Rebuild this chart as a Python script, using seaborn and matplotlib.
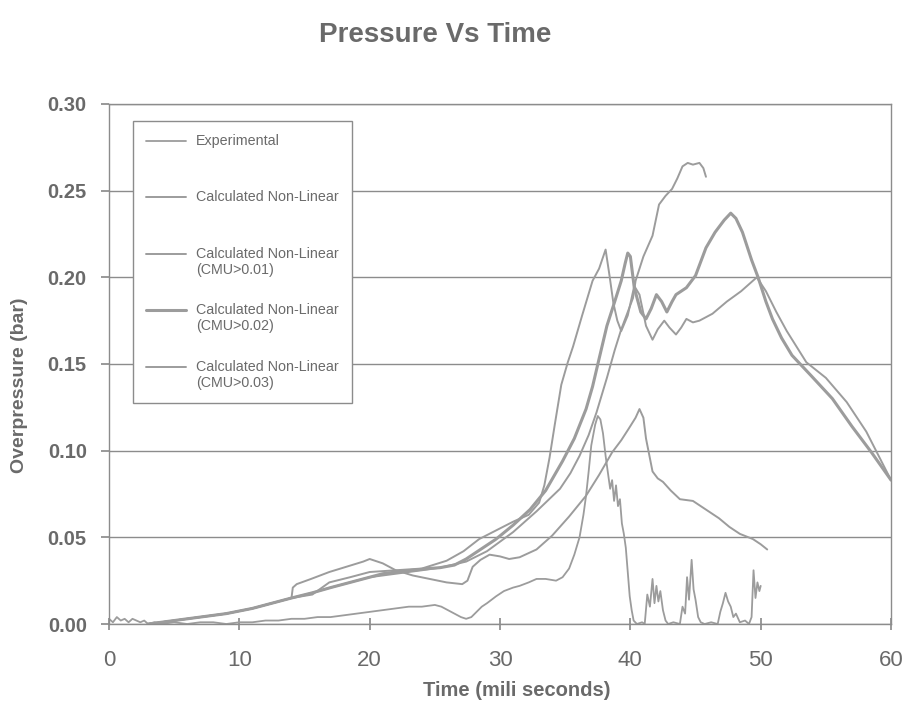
import numpy as np
import matplotlib
matplotlib.use("Agg")
import matplotlib.pyplot as plt
import seaborn as sns
from matplotlib.legend_handler import HandlerLine2D

# start shared by all the calculated curves (time in ms, pressure in bar)
early_t = [3.0, 4.0, 5.0, 6.0, 7.0, 8.0, 9.0, 10.0, 11.0, 12.0, 13.0, 14.0]
early_p = [0.000, 0.001, 0.002, 0.003, 0.004, 0.005, 0.006, 0.0075, 0.009, 0.011, 0.013, 0.015]

# experimental trace
exp_t = [0.0, 0.3, 0.6, 0.9, 1.2, 1.5, 1.8, 2.1, 2.4, 2.7, 3.0, 3.5, 4.0, 5.0, 6.0, 7.0, 8.0, 9.0,
         10.0, 11.0, 12.0, 13.0, 14.0, 15.0, 16.0, 17.0, 18.0, 19.0, 20.0, 21.0, 22.0, 23.0, 24.0,
         25.0, 25.5, 26.0, 26.5, 27.0, 27.4, 27.8, 28.2, 28.6, 29.0, 29.7, 30.3, 31.0, 31.5, 32.2,
         32.8, 33.5, 34.3, 34.8, 35.3, 35.7, 36.1, 36.4, 36.6, 36.8, 37.0, 37.3, 37.5, 37.7, 37.9,
         38.1, 38.3, 38.45, 38.6, 38.75, 38.9, 39.05, 39.2, 39.35, 39.5, 39.65, 39.8, 39.95, 40.1,
         40.25, 40.5, 40.9, 41.1, 41.3, 41.5, 41.7, 41.85, 42.0, 42.15, 42.3, 42.5, 42.7, 42.9,
         43.3, 43.8, 44.0, 44.2, 44.35, 44.5, 44.7, 44.85, 45.0, 45.2, 45.4, 45.7, 46.2, 46.7, 46.9,
         47.1, 47.3, 47.5, 47.7, 47.9, 48.1, 48.4, 48.8, 49.1, 49.3, 49.45, 49.6, 49.75, 49.9, 50.0]
exp_p = [0.003, 0.001, 0.004, 0.002, 0.003, 0.001, 0.003, 0.002, 0.001, 0.002, 0.000, 0.001, 0.000,
         0.001, 0.000, 0.001, 0.001, 0.000, 0.001, 0.001, 0.002, 0.002, 0.003, 0.003, 0.004, 0.004,
         0.005, 0.006, 0.007, 0.008, 0.009, 0.010, 0.010, 0.011, 0.010, 0.008, 0.006, 0.004, 0.003,
         0.004, 0.007, 0.010, 0.012, 0.016, 0.019, 0.021, 0.022, 0.024, 0.026, 0.026, 0.025, 0.027,
         0.032, 0.040, 0.050, 0.063, 0.074, 0.088, 0.103, 0.115, 0.120, 0.118, 0.110, 0.097, 0.086,
         0.078, 0.083, 0.071, 0.080, 0.068, 0.072, 0.058, 0.052, 0.044, 0.030, 0.016, 0.008, 0.002,
         0.000, 0.001, 0.000, 0.017, 0.010, 0.026, 0.012, 0.022, 0.013, 0.019, 0.008, 0.002, 0.000,
         0.001, 0.000, 0.010, 0.006, 0.027, 0.014, 0.037, 0.020, 0.014, 0.004, 0.001, 0.000, 0.001,
         0.000, 0.007, 0.012, 0.018, 0.013, 0.010, 0.004, 0.006, 0.001, 0.002, 0.000, 0.004, 0.031,
         0.015, 0.024, 0.019, 0.022]

# Calculated Non-Linear
nl_t = early_t + [15.6, 17.0, 18.5, 20.0, 22.0, 24.0, 25.4, 27.4, 29.0, 31.0,
                  32.8, 34.6, 35.4, 36.1, 36.8, 37.4, 38.2, 38.8, 39.3, 39.8,
                  40.2, 40.4, 41.0, 41.7, 42.2, 42.7, 43.2, 43.6, 44.0, 44.4,
                  44.8, 45.3, 45.6, 45.8]
nl_p = early_p + [0.018, 0.021, 0.024, 0.027, 0.029, 0.031, 0.0325, 0.036, 0.042, 0.053,
                  0.065, 0.078, 0.087, 0.097, 0.109, 0.122, 0.142, 0.158, 0.170, 0.180,
                  0.188, 0.198, 0.212, 0.224, 0.242, 0.247, 0.251, 0.257, 0.264, 0.266,
                  0.265, 0.266, 0.263, 0.258]

# CMU > 0.01
cmu01_t = early_t + [15.6, 16.9, 18.5, 20.0, 22.0, 24.0, 25.9, 27.2, 28.4, 29.7,
                     31.0, 32.2, 33.0, 33.4, 33.8, 34.2, 34.7, 35.2, 35.6, 36.3,
                     37.1, 37.6, 38.1, 38.4, 38.7, 39.0, 39.3, 39.8, 40.3, 40.7,
                     41.2, 41.7, 42.1, 42.6, 43.0, 43.5, 43.9, 44.3, 44.8, 45.3,
                     46.3, 47.4, 48.5, 49.7, 50.4, 51.2, 52.0, 53.5, 55.0, 56.6,
                     58.1, 60.0]
cmu01_p = early_p + [0.017, 0.024, 0.027, 0.030, 0.031, 0.032, 0.0365, 0.042, 0.049, 0.054,
                     0.059, 0.063, 0.070, 0.080, 0.096, 0.115, 0.138, 0.151, 0.160, 0.178,
                     0.198, 0.205, 0.216, 0.201, 0.185, 0.175, 0.169, 0.178, 0.195, 0.190,
                     0.172, 0.164, 0.170, 0.175, 0.171, 0.167, 0.171, 0.176, 0.174, 0.175,
                     0.179, 0.186, 0.192, 0.200, 0.192, 0.180, 0.169, 0.151, 0.142, 0.128,
                     0.111, 0.083]

# CMU > 0.02 (heavier line)
cmu02_t = early_t + [15.6, 17.0, 18.5, 20.0, 21.0, 22.0, 23.3, 24.5, 25.4, 26.5,
                     27.4, 28.5, 29.7, 31.0, 32.3, 33.5, 34.8, 35.7, 36.6, 37.1,
                     37.6, 38.2, 38.8, 39.3, 39.6, 39.8, 40.0, 40.3, 40.8, 41.2,
                     41.6, 42.0, 42.4, 42.8, 43.2, 43.5, 43.9, 44.3, 45.0, 45.8,
                     46.5, 47.2, 47.7, 48.1, 48.6, 49.3, 49.8, 50.4, 50.9, 51.6,
                     52.4, 53.9, 55.5, 57.0, 58.5, 60.0]
cmu02_p = early_p + [0.018, 0.021, 0.024, 0.027, 0.029, 0.030, 0.031, 0.032, 0.0325, 0.034,
                     0.0375, 0.043, 0.049, 0.057, 0.066, 0.077, 0.094, 0.107, 0.124, 0.137,
                     0.153, 0.172, 0.186, 0.198, 0.208, 0.214, 0.212, 0.194, 0.180, 0.176,
                     0.182, 0.190, 0.186, 0.180, 0.186, 0.190, 0.192, 0.194, 0.201, 0.217,
                     0.226, 0.233, 0.237, 0.234, 0.226, 0.210, 0.200, 0.186, 0.176, 0.165,
                     0.155, 0.143, 0.130, 0.114, 0.099, 0.083]

# CMU > 0.03
cmu03_t = early_t + [14.1, 14.4, 15.5, 16.9, 18.2, 19.5, 20.0, 21.0, 22.0, 23.3,
                     24.6, 25.9, 27.1, 27.5, 27.9, 28.5, 29.2, 30.0, 30.7, 31.5,
                     32.8, 34.0, 35.3, 36.6, 37.6, 38.6, 39.3, 39.9, 40.4, 40.7,
                     41.0, 41.2, 41.7, 42.1, 42.5, 43.1, 43.8, 44.8, 45.8, 46.8,
                     47.6, 48.4, 49.4, 50.0, 50.5]
cmu03_p = early_p + [0.021, 0.023, 0.026, 0.030, 0.033, 0.036, 0.0375, 0.035, 0.031, 0.028,
                     0.026, 0.024, 0.023, 0.025, 0.033, 0.037, 0.040, 0.039, 0.0375, 0.0385,
                     0.043, 0.051, 0.062, 0.074, 0.086, 0.099, 0.106, 0.113, 0.119, 0.124,
                     0.119, 0.107, 0.088, 0.084, 0.082, 0.077, 0.072, 0.071, 0.066, 0.061,
                     0.056, 0.052, 0.049, 0.046, 0.043]

labels = ["Experimental\n", "Calculated Non-Linear\n",
          "Calculated Non-Linear\n(CMU>0.01)", "Calculated Non-Linear\n(CMU>0.02)",
          "Calculated Non-Linear\n(CMU>0.03)"]
y_ticks = [0.0, 0.05, 0.10, 0.15, 0.20, 0.25, 0.30]
x_ticks = [0, 10, 20, 30, 40, 50, 60]


class FirstLineHandler(HandlerLine2D):
    # puts the legend line level with the first text line of the label
    def create_artists(self, legend, orig_handle, xdescent, ydescent, width, height, fontsize, trans):
        arts = super().create_artists(legend, orig_handle, xdescent, ydescent,
                                      width, height, fontsize, trans)
        for a in arts:
            a.set_ydata(np.asarray(a.get_ydata()) + 0.6 * fontsize)
        return arts


sns.set_theme(style="white")
plt.rcParams['font.family'] = ['Liberation Sans', 'DejaVu Sans']
narrow = ['Liberation Sans Narrow', 'Liberation Sans', 'DejaVu Sans']

LINE = '#9c9c9c'
GRID = '#8c8c8c'
TXT = '#6a6a6a'

fig = plt.figure(figsize=(9.07, 7.17), dpi=100)
ax = fig.add_axes([0.1202, 0.1297, 0.8622, 0.7253])

series = [(exp_t, exp_p, 1.3), (nl_t, nl_p, 1.4), (cmu01_t, cmu01_p, 1.4),
          (cmu02_t, cmu02_p, 2.2), (cmu03_t, cmu03_p, 1.4)]
for (t, p, lw), lab in zip(series, labels):
    sns.lineplot(x=t, y=p, ax=ax, color=LINE, lw=lw, label=lab, sort=False, estimator=None)

ax.set_xlim(0, 60)
ax.set_ylim(0, 0.30)
ax.set_xticks(x_ticks)
ax.set_yticks(y_ticks)
ax.set_yticklabels([f"{v:.2f}" for v in y_ticks], fontsize=14.5, fontweight='bold', color=TXT)
ax.set_xticklabels([str(v) for v in x_ticks], fontsize=16, color=TXT, family=narrow)
ax.yaxis.grid(True, color=GRID, lw=1.0)
ax.xaxis.grid(False)
for s in ax.spines.values():
    s.set_color(GRID)
    s.set_linewidth(1.0)
ax.tick_params(axis='x', direction='inout', length=9, color=GRID, pad=14, bottom=True)
ax.tick_params(axis='y', direction='out', length=6, color=GRID, pad=10, left=True)
ax.set_xlabel("")
ax.set_ylabel("")

leg = ax.legend(loc='upper left', bbox_to_anchor=(0.0307, 0.967), borderaxespad=0,
                fontsize=10.3, frameon=True, fancybox=False, framealpha=1, edgecolor=GRID,
                handlelength=2.8, handletextpad=0.7, labelspacing=1.83, borderpad=0.9,
                handler_map={plt.Line2D: FirstLineHandler()})
for txt in leg.get_texts():
    txt.set_color(TXT)
leg.get_frame().set_linewidth(1.0)

fig.text(0.48, 0.951, "Pressure Vs Time", ha='center', va='center', fontsize=20,
         fontweight='bold', color=TXT)
fig.text(0.570, 0.037, "Time (mili seconds)", ha='center', va='center', fontsize=14.5,
         fontweight='bold', color=TXT, family=narrow)
fig.text(0.021, 0.462, "Overpressure (bar)", ha='center', va='center', rotation=90,
         fontsize=14, fontweight='bold', color=TXT)

fig.savefig("out.png", dpi=100)
